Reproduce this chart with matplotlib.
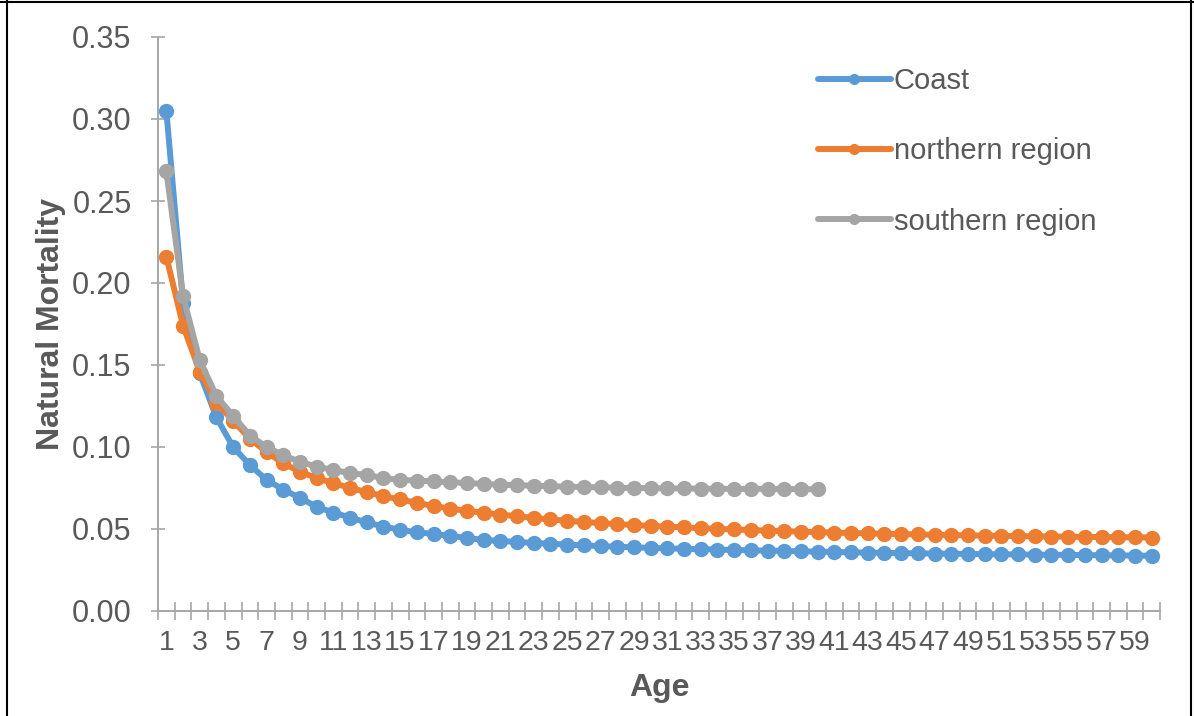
import numpy as np
import matplotlib.pyplot as plt
from matplotlib.lines import Line2D

# Ages (category axis)
ages = list(range(1, 61))

# Natural mortality
coast = [0.305, 0.188, 0.145, 0.118, 0.100, 0.089, 0.080, 0.074, 0.069, 0.0635,
         0.060, 0.057, 0.054, 0.0515, 0.0495, 0.048, 0.047, 0.0458, 0.0446, 0.0433,
         0.0427, 0.0421, 0.0415, 0.041, 0.0405, 0.040, 0.0396, 0.0392, 0.0388, 0.0385,
         0.0382, 0.0379, 0.0377, 0.0375, 0.0372, 0.0370, 0.0368, 0.0366, 0.0364, 0.0362,
         0.0360, 0.0358, 0.0356, 0.0355, 0.0353, 0.0352, 0.0350, 0.0349, 0.0348, 0.0347,
         0.0346, 0.0345, 0.0344, 0.0343, 0.0342, 0.0341, 0.0340, 0.0339, 0.0338, 0.0337]

northern = [0.216, 0.174, 0.146, 0.127, 0.116, 0.105, 0.097, 0.090, 0.085, 0.081,
            0.078, 0.075, 0.0725, 0.070, 0.068, 0.066, 0.064, 0.0625, 0.061, 0.060,
            0.0588, 0.0578, 0.0568, 0.0558, 0.055, 0.0543, 0.0536, 0.053, 0.0524, 0.0519,
            0.0514, 0.051, 0.0505, 0.0501, 0.0497, 0.0494, 0.049, 0.0487, 0.0484, 0.0481,
            0.0478, 0.0476, 0.0473, 0.0471, 0.0469, 0.0467, 0.0465, 0.0463, 0.0461, 0.046,
            0.0458, 0.0457, 0.0455, 0.0454, 0.0453, 0.0452, 0.0451, 0.045, 0.0449, 0.0448]

southern = [0.268, 0.192, 0.153, 0.131, 0.119, 0.107, 0.100, 0.095, 0.091, 0.088,
            0.086, 0.084, 0.083, 0.081, 0.080, 0.0795, 0.079, 0.0785, 0.078, 0.0775,
            0.077, 0.0767, 0.0764, 0.0761, 0.0758, 0.0756, 0.0754, 0.0752, 0.075, 0.0749,
            0.0748, 0.0747, 0.0746, 0.0745, 0.0745, 0.0744, 0.0744, 0.0743, 0.0743, 0.0742]

series_names = ['Coast', 'northern region', 'southern region']
colors = ['#5b9bd5', '#ed7d31', '#a5a5a5']
text_gray = '#595959'
axis_gray = '#a6a6a6'

plt.rcParams['font.family'] = ['Liberation Sans', 'DejaVu Sans']

fig = plt.figure(figsize=(11.94, 7.16), dpi=100)
ax = fig.add_axes([158 / 1194, 1 - 611 / 716, (1160 - 158) / 1194, (611 - 37) / 716])

for vals, name, c in zip([coast, northern, southern], series_names, colors):
    ax.plot(ages[:len(vals)], vals, color=c, lw=4.3, marker='o', ms=10,
            label=name, solid_capstyle='round')

ax.set_xlim(0.5, 60.5)
ax.set_ylim(0, 0.35)

# y axis
ax.set_yticks(np.arange(0, 0.351, 0.05))
ax.set_yticklabels(['%.2f' % v for v in np.arange(0, 0.351, 0.05)])
ax.tick_params(axis='y', direction='inout', length=10, width=1.2, color=axis_gray,
               labelsize=22, labelcolor=text_gray, pad=14)

# x axis: labels every other age, tick marks between categories
ax.set_xticks(ages[::2])
ax.set_xticklabels([str(a) for a in ages[::2]])
ax.set_xticks(np.arange(0.5, 61, 1), minor=True)
ax.tick_params(axis='x', which='major', length=0, labelsize=20.5, labelcolor=text_gray, pad=14)
ax.tick_params(axis='x', which='minor', direction='inout', length=13, width=1.2, color=axis_gray)

for s in ['top', 'right']:
    ax.spines[s].set_visible(False)
for s in ['left', 'bottom']:
    ax.spines[s].set_color(axis_gray)
    ax.spines[s].set_linewidth(1.4)

ax.set_ylabel('Natural Mortality', fontsize=23, fontweight='bold', color=text_gray, labelpad=4)
ax.set_xlabel('Age', fontsize=23, fontweight='bold', color=text_gray, labelpad=12)

leg = fig.legend(loc='upper left', bbox_to_anchor=(818 / 1194, 1 - 67 / 716), frameon=False,
                 fontsize=21, handlelength=2.5, handletextpad=0.1, labelspacing=1.45,
                 borderpad=0, borderaxespad=0, labelcolor=text_gray, markerscale=0.7)

# outer frame
for xy in [([7, 7], [0, 716]), ([0, 1194], [714, 714]), ([1191, 1191], [0, 716])]:
    fig.add_artist(Line2D([v / 1194 for v in xy[0]], [v / 716 for v in xy[1]],
                          color='black', lw=1.5, transform=fig.transFigure))

plt.savefig('out.png', dpi=100)
